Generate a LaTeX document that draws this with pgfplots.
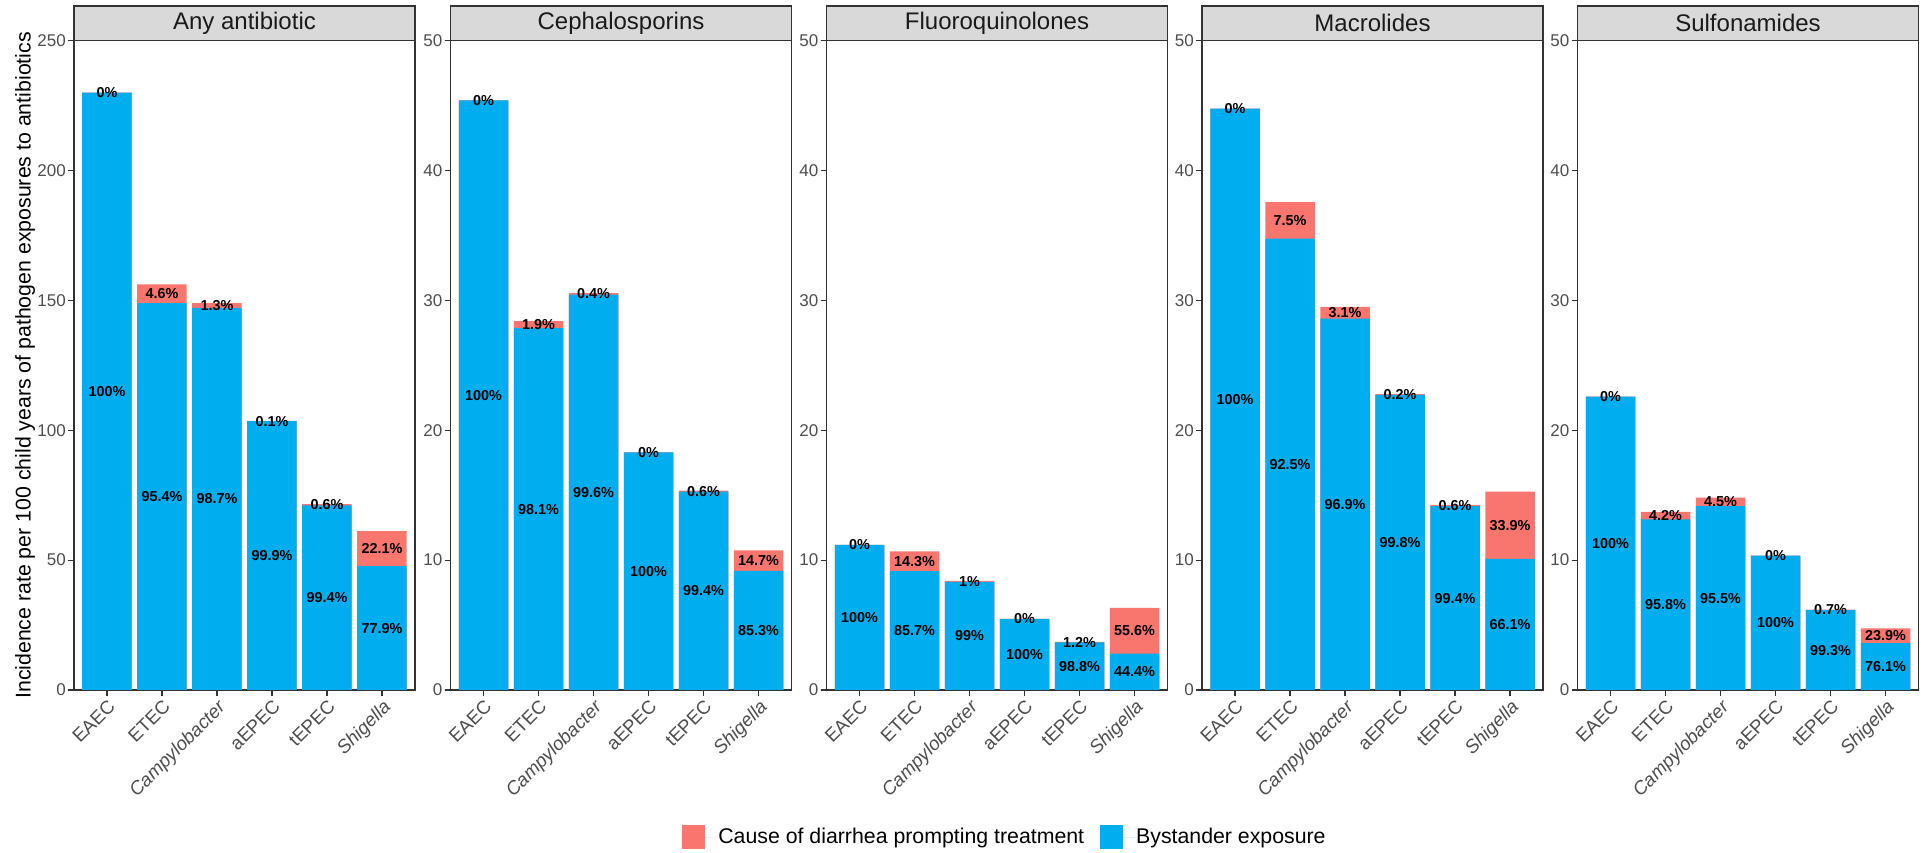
\documentclass[border=0pt]{standalone}
\usepackage{fontspec}
\setmainfont{Liberation Sans}
\usepackage{pgfplots}
\usepackage{pgfplotstable}
\pgfplotsset{compat=1.18}

\definecolor{cause}{HTML}{F8766D}
\definecolor{bystander}{HTML}{00AEEF}
\definecolor{gray10}{HTML}{1A1A1A}
\definecolor{gray20}{HTML}{333333}
\definecolor{gray30}{HTML}{4D4D4D}
\definecolor{gray85}{HTML}{D9D9D9}

\newcommand\fsz[2]{\fontsize{#1bp}{#2bp}\selectfont}

% Incidence rates (per 100 child years), split into the share that is
% the cause of diarrhoea prompting treatment (red) and bystander exposure (blue).
% pb / pr: percentage of each part.
\pgfplotstableread{
x blue red pb pr
1 230.0 0.00 100 0
2 149.0 7.20 95.4 4.6
3 147.1 1.90 98.7 1.3
4 103.5 0.10 99.9 0.1
5 71.1 0.43 99.4 0.6
6 47.7 13.50 77.9 22.1
}\anyab

\pgfplotstableread{
x blue red pb pr
1 45.40 0.00 100 0
2 27.86 0.54 98.1 1.9
3 30.44 0.12 99.6 0.4
4 18.30 0.00 100 0
5 15.27 0.09 99.4 0.6
6 9.18 1.58 85.3 14.7
}\cephalo

\pgfplotstableread{
x blue red pb pr
1 11.17 0.00 100 0
2 9.15 1.53 85.7 14.3
3 8.32 0.08 99 1
4 5.47 0.00 100 0
5 3.66 0.04 98.8 1.2
6 2.81 3.51 44.4 55.6
}\fluoro

\pgfplotstableread{
x blue red pb pr
1 44.76 0.00 100 0
2 34.75 2.82 92.5 7.5
3 28.59 0.91 96.9 3.1
4 22.73 0.05 99.8 0.2
5 14.16 0.09 99.4 0.6
6 10.10 5.18 66.1 33.9
}\macro

\pgfplotstableread{
x blue red pb pr
1 22.60 0.00 100 0
2 13.13 0.58 95.8 4.2
3 14.15 0.67 95.5 4.5
4 10.35 0.00 100 0
5 6.15 0.04 99.3 0.7
6 3.61 1.14 76.1 23.9
}\sulfa

\pgfplotsset{
  facet/.style={
    scale only axis, width=341bp, height=649.3bp, anchor=south west,
    xmin=0.4, xmax=6.6, ymin=0,
    xtick={1,...,6},
    xticklabels={EAEC,ETEC,\textit{Campylobacter},aEPEC,tEPEC,\textit{Shigella}},
    tick pos=left, tick align=outside, major tick length=6bp,
    tick style={gray20, line width=1.1bp},
    axis line style={gray20, line width=1.1bp},
    xticklabel style={rotate=45, anchor=north east, font=\fsz{18.8}{22}, text=gray30, inner sep=1.5bp},
    yticklabel style={font=\fsz{17}{20}, text=gray30, inner sep=2bp},
    /pgf/number format/assume math mode=true,
    after end axis/.code={
      \draw[gray20, fill=gray85, line width=1.1bp] (rel axis cs:0,1) rectangle ([yshift=34.7bp]rel axis cs:1,1);
      \node[font=\fsz{24}{28}, text=gray10] at ([yshift=17.35bp]rel axis cs:0.5,1) {#1};
    },
  },
  causebar/.style={ybar, bar width=0.9, bar shift=0pt, fill=cause, draw=none},
  bystbar/.style={ybar, bar width=0.9, bar shift=0pt, fill=bystander, draw=none},
  pctlabel/.style={draw=none, mark=none, point meta=explicit symbolic,
    nodes near coords={\pgfplotspointmeta\%},
    nodes near coords style={anchor=center, font=\bfseries\fsz{14.4}{17}, text=black, inner sep=0pt}},
}

% one facet: red bar at full height, blue share drawn over it, then the percentages
\newcommand\facetplots[1]{%
  \addplot[causebar, forget plot] table[x=x, y expr=\thisrow{blue}+\thisrow{red}] {#1};
  \addplot[bystbar, forget plot] table[x=x, y=blue] {#1};
  \addplot[pctlabel, forget plot] table[x=x, y expr=\thisrow{blue}/2, meta=pb] {#1};
  \addplot[pctlabel, forget plot] table[x=x, y expr=\thisrow{blue}+\thisrow{red}/2, meta=pr] {#1};
}

\begin{document}
\begin{tikzpicture}
\path[use as bounding box] (0,0) rectangle (1929bp,853bp);

\begin{axis}[facet={Any antibiotic}, at={(74bp,163bp)}, ymax=250, ytick={0,50,...,250}]
\facetplots{\anyab}
\end{axis}

\begin{axis}[facet={Cephalosporins}, at={(450.5bp,163bp)}, ymax=50, ytick={0,10,...,50}]
\facetplots{\cephalo}
\end{axis}

\begin{axis}[facet={Fluoroquinolones}, at={(826.5bp,163bp)}, ymax=50, ytick={0,10,...,50},
  legend style={at={(0.5205,-0.2264)}, anchor=center, draw=none, fill=none,
    legend columns=2, font=\fsz{21.3}{25}, inner sep=0pt,
    nodes={inner sep=0pt},
    /tikz/every even column/.append style={column sep=16bp}},
  legend image code/.code={\fill[#1] (0bp,-11.5bp) rectangle (23bp,11.5bp); \path (0bp,0bp) -- (36bp,0bp);}]
\facetplots{\fluoro}
\addlegendimage{fill=cause, draw=none}
\addlegendentry{Cause of diarrhea prompting treatment}
\addlegendimage{fill=bystander, draw=none}
\addlegendentry{Bystander exposure}
\end{axis}

\begin{axis}[facet={Macrolides}, at={(1202bp,163bp)}, ymax=50, ytick={0,10,...,50}]
\facetplots{\macro}
\end{axis}

\begin{axis}[facet={Sulfonamides}, at={(1577.5bp,163bp)}, ymax=50, ytick={0,10,...,50}]
\facetplots{\sulfa}
\end{axis}

\node[rotate=90, font=\fsz{21.3}{25}, text=black] at (25bp,487.6bp)
  {Incidence rate per 100 child years of pathogen exposures to antibiotics};
\end{tikzpicture}
\end{document}
